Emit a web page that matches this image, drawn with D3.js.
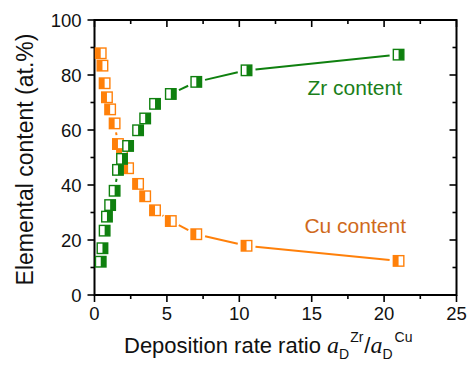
<!DOCTYPE html>
<html>
<head>
<meta charset="utf-8">
<script src="https://cdn.jsdelivr.net/npm/d3@7"></script>
<style>
  html, body { margin: 0; padding: 0; background: #fff; }
  svg { display: block; font-family: "Liberation Sans", Arial, sans-serif; }
</style>
</head>
<body>
<svg id="chart" width="469" height="379"></svg>
<script>
// Deposition rate ratio a_D(Zr)/a_D(Cu) for each film
const ratio = [0.43, 0.55, 0.70, 0.86, 1.08, 1.39, 1.62, 1.90, 2.32, 3.01, 3.50, 4.18, 5.27, 7.03, 10.5, 21.0];
// Zr content, at.%
const zrContent = [12.1, 17.0, 23.4, 28.5, 32.7, 37.9, 45.5, 49.5, 54.2, 59.9, 64.2, 69.5, 73.1, 77.5, 81.7, 87.4];
// Cu content, at.%
const cuContent = [87.9, 83.4, 77.0, 71.9, 67.5, 62.4, 54.9, 51.2, 46.1, 40.4, 35.9, 30.8, 26.9, 22.1, 17.9, 12.4];

const xTicks = [0, 5, 10, 15, 20, 25];
const yTicks = [0, 20, 40, 60, 80, 100];
const xMinor = [2.5, 7.5, 12.5, 17.5, 22.5];
const yMinor = [10, 30, 50, 70, 90];

const GREEN = "#0f800f";
const ORANGE = "#ff800a";

const margin = { left: 94.5, right: 12.5, top: 20, bottom: 84 };
const W = 469, H = 379;
const svg = d3.select("#chart");

const x = d3.scaleLinear().domain([0, 25]).range([margin.left, W - margin.right]);
const y = d3.scaleLinear().domain([0, 100]).range([H - margin.bottom, margin.top]);

const x0 = x(0), x1 = x(25), y0 = y(0), y1 = y(100);
const MAJ = 7, MIN = 4;

const axisG = svg.append("g").attr("stroke", "#000").attr("fill", "none");

// frame
axisG.append("rect")
  .attr("x", x0).attr("y", y1).attr("width", x1 - x0).attr("height", y0 - y1)
  .attr("stroke-width", 2);

// ticks: left/bottom point outward, top/right point inward
function vTick(xv, len, yBase, dir) {
  axisG.append("line").attr("x1", x(xv)).attr("x2", x(xv))
    .attr("y1", yBase).attr("y2", yBase + dir * len).attr("stroke-width", 1.6);
}
function hTick(yv, len, xBase, dir) {
  axisG.append("line").attr("y1", y(yv)).attr("y2", y(yv))
    .attr("x1", xBase).attr("x2", xBase + dir * len).attr("stroke-width", 1.6);
}
xTicks.forEach(v => { vTick(v, MAJ, y0, 1); vTick(v, MAJ, y1, 1); });
xMinor.forEach(v => { vTick(v, MIN, y0, 1); vTick(v, MIN, y1, 1); });
yTicks.forEach(v => { hTick(v, MAJ, x0, -1); hTick(v, MAJ, x1, -1); });
yMinor.forEach(v => { hTick(v, MIN, x0, -1); hTick(v, MIN, x1, -1); });

// tick labels
svg.append("g").selectAll("text").data(xTicks).join("text")
  .attr("x", d => x(d)).attr("y", y0 + 25)
  .attr("text-anchor", "middle").attr("font-size", 18.5).attr("fill", "#111")
  .text(d => d);
svg.append("g").selectAll("text").data(yTicks).join("text")
  .attr("x", x0 - 13).attr("y", d => y(d)).attr("dy", "0.36em")
  .attr("text-anchor", "end").attr("font-size", 18.5).attr("fill", "#111")
  .text(d => d);

// axis titles
svg.append("text")
  .attr("transform", `translate(33,${(y0 + y1) / 2 + 2}) rotate(-90)`)
  .attr("text-anchor", "middle").attr("font-size", 23).attr("fill", "#111")
  .text("Elemental content (at.%)");

const xt = svg.append("text").attr("x", 124).attr("y", 353)
  .attr("font-size", 22).attr("fill", "#111");
xt.append("tspan").text("Deposition rate ratio ");
xt.append("tspan").attr("font-style", "italic").attr("font-family", "Liberation Serif, serif").attr("font-size", 24).text("a");
xt.append("tspan").attr("font-size", 14).attr("dy", 6).text("D");
xt.append("tspan").attr("font-size", 14).attr("dy", -17).attr("dx", 1).text("Zr");
xt.append("tspan").attr("dy", 11).attr("dx", 1).text("/");
xt.append("tspan").attr("font-style", "italic").attr("font-family", "Liberation Serif, serif").attr("font-size", 24).text("a");
xt.append("tspan").attr("font-size", 14).attr("dy", 6).text("D");
xt.append("tspan").attr("font-size", 14).attr("dy", -17).attr("dx", 2).text("Cu");

// series (Cu drawn first so the Zr symbols sit on top where they cross)
const series = [
  { values: cuContent, color: ORANGE, filledRight: false },
  { values: zrContent, color: GREEN, filledRight: true }
];

const S = 10.5;    // symbol size
const GAP = 9;     // line stops short of each symbol

series.forEach(s => {
  const pts = ratio.map((r, i) => [x(r), y(s.values[i])]);
  const g = svg.append("g");
  // connecting segments, trimmed around symbols
  for (let i = 0; i < pts.length - 1; i++) {
    const [ax, ay] = pts[i], [bx, by] = pts[i + 1];
    const dx = bx - ax, dy = by - ay, len = Math.hypot(dx, dy);
    if (len <= 2 * GAP + 1) continue;
    const ux = dx / len, uy = dy / len;
    g.append("line")
      .attr("x1", ax + ux * GAP).attr("y1", ay + uy * GAP)
      .attr("x2", bx - ux * GAP).attr("y2", by - uy * GAP)
      .attr("stroke", s.color).attr("stroke-width", 2);
  }
  // half-filled square symbols
  const sym = g.selectAll("g.sym").data(pts).join("g").attr("class", "sym")
    .attr("transform", d => `translate(${d[0]},${d[1]})`);
  sym.append("rect")
    .attr("x", -S / 2).attr("y", -S / 2).attr("width", S).attr("height", S)
    .attr("fill", "#fff");
  sym.append("rect")
    .attr("x", s.filledRight ? 0 : -S / 2).attr("y", -S / 2)
    .attr("width", S / 2).attr("height", S)
    .attr("fill", s.color);
  sym.append("rect")
    .attr("x", -S / 2).attr("y", -S / 2).attr("width", S).attr("height", S)
    .attr("fill", "none").attr("stroke", s.color).attr("stroke-width", 1.4);
});

// series annotations
svg.append("text").attr("x", 402).attr("y", 95).attr("text-anchor", "end")
  .attr("font-size", 21).attr("fill", "#1a7f1a").text("Zr content");
svg.append("text").attr("x", 406).attr("y", 233).attr("text-anchor", "end")
  .attr("font-size", 21).attr("fill", "#cf6a1c").text("Cu content");
</script>
</body>
</html>
